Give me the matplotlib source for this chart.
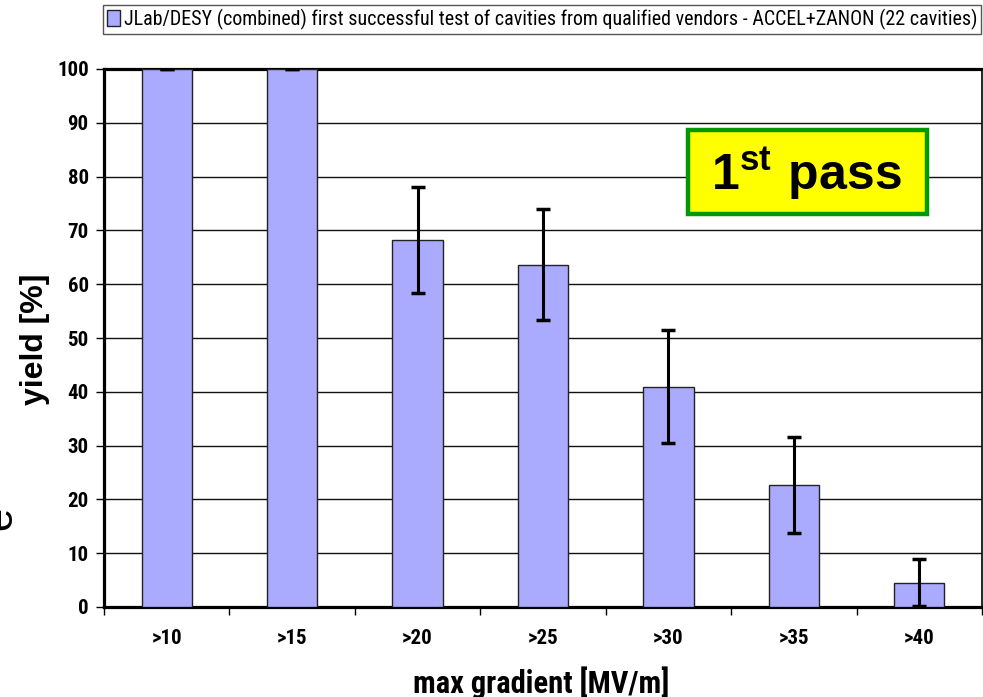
import numpy as np
import matplotlib
matplotlib.use("Agg")
import matplotlib.pyplot as plt
from matplotlib.patches import Rectangle

categories = [">10", ">15", ">20", ">25", ">30", ">35", ">40"]
yield_pct = [100.0, 100.0, 68.2, 63.6, 40.9, 22.7, 4.5]
yield_err = [0.0, 0.0, 9.9, 10.3, 10.5, 8.9, 4.4]
legend_label = ("JLab/DESY (combined) first successful test of cavities from "
                "qualified vendors - ACCEL+ZANON (22 cavities)")

narrow = ["Roboto Condensed", "Liberation Sans", "DejaVu Sans"]
plt.rcParams["mathtext.fontset"] = "custom"
plt.rcParams["mathtext.rm"] = "Liberation Sans"
plt.rcParams["mathtext.bf"] = "Liberation Sans:bold"

W, H = 983, 697
fig = plt.figure(figsize=(W / 100, H / 100), dpi=100)
ax = fig.add_axes([104 / W, 1 - 607 / H, 878 / W, 538 / H])

x = np.arange(len(categories))
ax.bar(x, yield_pct, width=0.4, color="#aaaaff", edgecolor="#222222",
       linewidth=1.0, zorder=3, label=legend_label)
ax.errorbar(x, yield_pct, yerr=yield_err, fmt="none", ecolor="black",
            elinewidth=2.2, capsize=5, capthick=2.5, zorder=4)

ax.set_xlim(-0.5, len(categories) - 0.5)
ax.set_ylim(0, 100)
ax.set_yticks(np.arange(0, 101, 10))
ax.yaxis.grid(True, color="#111111", linewidth=1.0, zorder=0)
ax.set_axisbelow(True)

ax.set_xticks(x)
ax.set_xticklabels(categories)
ax.set_xticks(np.arange(-0.5, len(categories), 1.0), minor=True)
ax.tick_params(axis="x", which="major", length=0, pad=16)
ax.tick_params(axis="x", which="minor", length=6, width=1.0, direction="out")
ax.tick_params(axis="y", length=6, width=1.0, direction="out", pad=5)
for lab in ax.get_xticklabels() + ax.get_yticklabels():
    lab.set_family(narrow)
    lab.set_fontweight("bold")
    lab.set_fontsize(15)

for side in ["left", "bottom", "top"]:
    ax.spines[side].set_linewidth(2.3)
    ax.spines[side].set_color("black")
ax.spines["right"].set_linewidth(1.2)

leg = fig.legend(loc="upper right", bbox_to_anchor=(981 / W, 1 - 5 / H),
                 bbox_transform=fig.transFigure, borderaxespad=0,
                 prop={"family": narrow, "size": 14.4}, handlelength=0.65,
                 handleheight=0.85, handletextpad=0.2, borderpad=0.2,
                 fancybox=False, framealpha=1)
leg.get_frame().set_edgecolor("#555555")
leg.get_frame().set_linewidth(1.0)

fig.text(35 / W, 1 - 339 / H, "yield [%]", rotation=90, ha="center",
         va="center", fontsize=23, fontweight="bold",
         family=["Liberation Sans", "DejaVu Sans"])
fig.text(541 / W, 1 - 693 / H, "max gradient [MV/m]", ha="center",
         va="baseline", fontsize=22, fontweight="bold", family=narrow)

# cut-off letter on the left edge
fig.text(20 / W, 1 - 518 / H, "e", rotation=90, ha="right", va="center",
         fontsize=30, family=["Liberation Sans", "DejaVu Sans"])

# "1st pass" badge
fig.add_artist(Rectangle((688 / W, 1 - 214 / H), 239 / W, 84 / H,
                         transform=fig.transFigure, facecolor="#ffff00",
                         edgecolor="#009900", linewidth=3.2, zorder=5))
fig.text(806 / W, 1 - 174 / H, r"$\mathbf{1^{st}\ pass}$", ha="center",
         va="center", fontsize=36, zorder=6)

fig.savefig("out.png", dpi=100)
